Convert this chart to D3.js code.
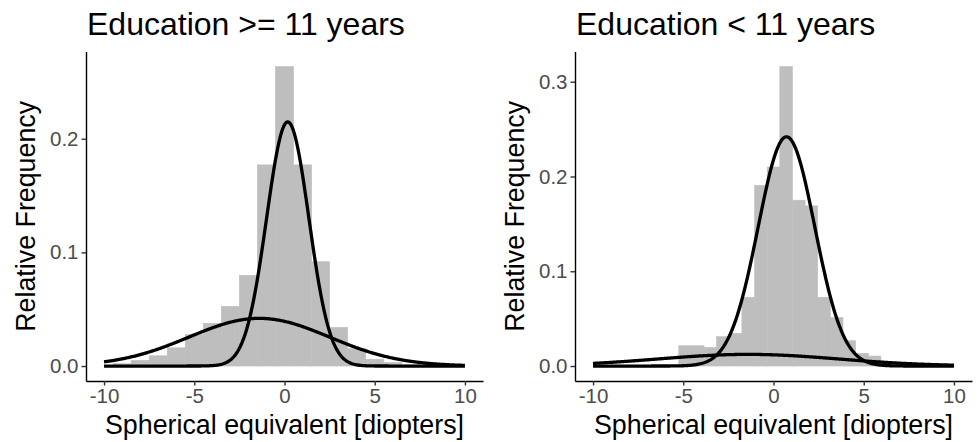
<!DOCTYPE html>
<html>
<head>
<meta charset="utf-8">
<script src="https://cdn.jsdelivr.net/npm/d3@7"></script>
<style>
  body { margin: 0; background: #fff; }
  svg text { font-family: "Liberation Sans", Arial, sans-serif; }
</style>
</head>
<body>
<div id="container"></div>
<script>
// panel titles
var titles = ["Education >= 11 years", "Education < 11 years"];

// histogram of the >= 11 years group (bin width 1, centred on integers)
var leftBinWidth = 1;
var leftCenters = [-9, -8, -7, -6, -5, -4, -3, -2, -1, 0, 1, 2, 3, 4, 5, 6, 7];
var leftValues  = [0.002, 0.005, 0.009, 0.016, 0.0276, 0.0376, 0.0525, 0.0798, 0.177, 0.2635, 0.177, 0.0918, 0.034, 0.0153, 0.006, 0.003, 0.001];

// histogram of the < 11 years group (bin width 0.7)
var rightBinWidth = 0.7;
var rightCenters = [-4.9, -4.2, -3.5, -2.8, -2.1, -1.4, -0.7, 0, 0.7, 1.4, 2.1, 2.8, 3.5, 4.2, 4.9, 5.6];
var rightValues  = [0.0214, 0.0214, 0.0197, 0.031, 0.0345, 0.0725, 0.1906, 0.210, 0.316, 0.175, 0.169, 0.0725, 0.0513, 0.0267, 0.0134, 0.0105];

// fitted mixture components (mean, sd, weight)
var leftMeans   = [0.18, -1.4];
var leftSds     = [1.17, 3.9];
var leftWeights = [0.63, 0.41];

var rightMeans   = [0.72, -1.4];
var rightSds     = [1.57, 5.0];
var rightWeights = [0.952, 0.154];

// axis ticks
var xTicks = [-10, -5, 0, 5, 10];
var leftYTicks  = [0, 0.1, 0.2];
var rightYTicks = [0, 0.1, 0.2, 0.3];

var xLabel = "Spherical equivalent [diopters]";
var yLabel = "Relative Frequency";

var width = 977, height = 442;

var svg = d3.select("#container").append("svg")
    .attr("width", width)
    .attr("height", height);

//normal density
function dnorm(x, m, s) {
  return Math.exp(-0.5 * Math.pow((x - m) / s, 2)) / (s * Math.sqrt(2 * Math.PI));
}

function drawPanel(o) {
  var g = svg.append("g");

  var x = d3.scaleLinear().domain([-11, 11]).range([o.left, o.right]);
  var ymax = d3.max(o.values);
  var y = d3.scaleLinear().domain([-0.05 * ymax, 1.05 * ymax]).range([381, 51.6]);

  //bars (thin stroke of the same grey hides the seams between bins)
  g.selectAll("rect.bar")
    .data(o.centers)
    .enter().append("rect")
    .attr("class", "bar")
    .attr("x", function(d) { return x(d - o.binWidth / 2); })
    .attr("width", function(d) { return x(d + o.binWidth / 2) - x(d - o.binWidth / 2); })
    .attr("y", function(d, i) { return y(o.values[i]); })
    .attr("height", function(d, i) { return y(0) - y(o.values[i]); })
    .attr("fill", "#bebebe")
    .attr("stroke", "#bebebe")
    .attr("stroke-width", 0.6);

  //curves, one per component
  var xs = d3.range(-10, 10.0001, 0.05);
  var line = d3.line()
    .x(function(d) { return x(d[0]); })
    .y(function(d) { return y(d[1]); });
  o.means.forEach(function(m, k) {
    var pts = xs.map(function(v) { return [v, o.weights[k] * dnorm(v, m, o.sds[k])]; });
    g.append("path")
      .attr("d", line(pts))
      .attr("fill", "none")
      .attr("stroke", "#000")
      .attr("stroke-width", 3.3)
      .attr("stroke-linejoin", "round");
  });

  //axes
  var xAxis = g.append("g")
    .attr("transform", "translate(0,381)")
    .call(d3.axisBottom(x).tickValues(xTicks).tickSize(4.5).tickPadding(3).tickSizeOuter(0)
      .tickFormat(function(d) { return String(d); }));
  var yAxis = g.append("g")
    .attr("transform", "translate(" + o.left + ",0)")
    .call(d3.axisLeft(y).tickValues(o.yTicks).tickSize(4.5).tickPadding(3).tickSizeOuter(0)
      .tickFormat(function(d) { return d.toFixed(1); }));

  [xAxis, yAxis].forEach(function(a) {
    a.select(".domain").attr("stroke", "#000").attr("stroke-width", 1.4);
    a.selectAll(".tick line").attr("stroke", "#333").attr("stroke-width", 1.4);
    a.selectAll(".tick text")
      .attr("fill", "#4d4d4d")
      .style("font-size", "20.5px")
      .style("font-family", '"Liberation Sans", Arial, sans-serif');
  });

  //titles
  g.append("text")
    .attr("x", o.left + 1)
    .attr("y", 35)
    .attr("fill", "#000")
    .style("font-size", "32px")
    .text(o.title);

  g.append("text")
    .attr("x", (o.left + o.right) / 2)
    .attr("y", 434)
    .attr("text-anchor", "middle")
    .attr("fill", "#000")
    .style("font-size", "26.8px")
    .text(xLabel);

  g.append("text")
    .attr("transform", "translate(" + (o.left - 51) + "," + ((y.range()[0] + y.range()[1]) / 2) + ") rotate(-90)")
    .attr("text-anchor", "middle")
    .attr("fill", "#000")
    .style("font-size", "26.8px")
    .text(yLabel);
}

drawPanel({
  left: 86, right: 483, title: titles[0],
  centers: leftCenters, values: leftValues, binWidth: leftBinWidth,
  means: leftMeans, sds: leftSds, weights: leftWeights, yTicks: leftYTicks
});

drawPanel({
  left: 575, right: 972, title: titles[1],
  centers: rightCenters, values: rightValues, binWidth: rightBinWidth,
  means: rightMeans, sds: rightSds, weights: rightWeights, yTicks: rightYTicks
});
</script>
</body>
</html>
